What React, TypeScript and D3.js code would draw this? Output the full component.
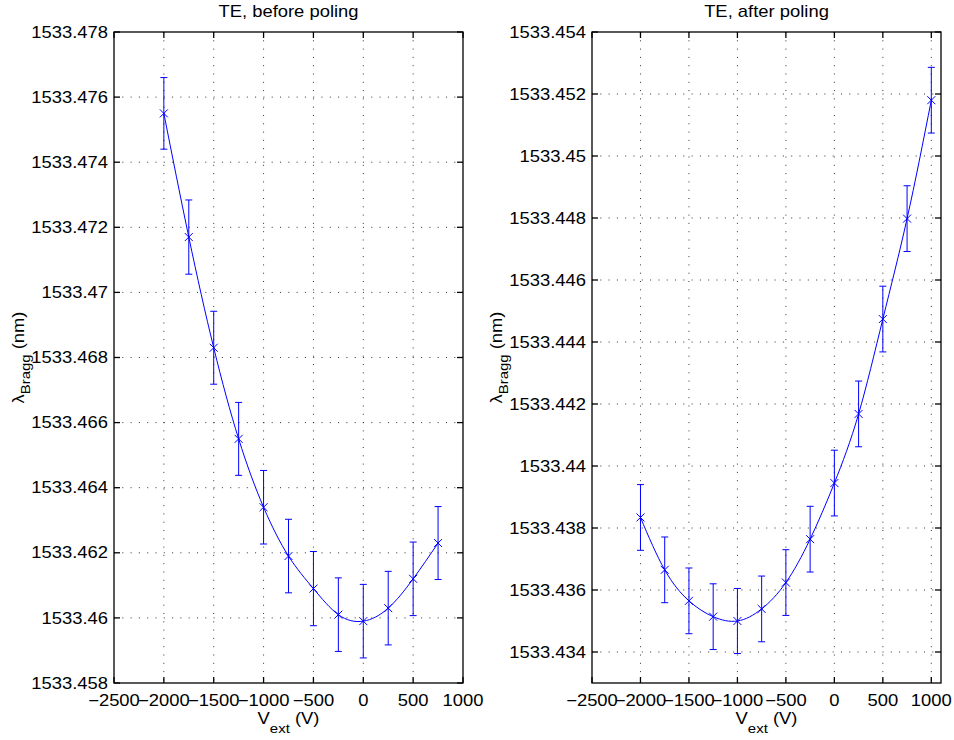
import React, { useEffect, useRef } from 'react';
import * as d3 from 'd3';

const voltsBefore = [-2000, -1750, -1500, -1250, -1000, -750, -500, -250, 0, 250, 500, 750];
const braggBefore = [
    1533.4755, 1533.4717, 1533.4683, 1533.4655, 1533.4634, 1533.4619,
    1533.4609, 1533.4601, 1533.4599, 1533.4603, 1533.4612, 1533.4623,
];
const errBefore = [
    0.00110, 0.00114, 0.00112, 0.00112, 0.00113, 0.00113,
    0.00114, 0.00113, 0.00113, 0.00113, 0.00113, 0.00112,
];

const voltsAfter = [-2000, -1750, -1500, -1250, -1000, -750, -500, -250, 0, 250, 500, 750, 1000];
const braggAfter = [
    1533.43834, 1533.43665, 1533.43565, 1533.43514, 1533.43500, 1533.43539,
    1533.43624, 1533.43764, 1533.43945, 1533.44168, 1533.44474, 1533.44798, 1533.45180,
];
const errAfter = [
    0.00106, 0.00106, 0.00106, 0.00106, 0.00105, 0.00106,
    0.00106, 0.00106, 0.00106, 0.00106, 0.00106, 0.00106, 0.00106,
];

const xTicks = [-2500, -2000, -1500, -1000, -500, 0, 500, 1000];
const yTicksBefore = [
    1533.458, 1533.46, 1533.462, 1533.464, 1533.466, 1533.468,
    1533.47, 1533.472, 1533.474, 1533.476, 1533.478,
];
const yTicksAfter = [
    1533.434, 1533.436, 1533.438, 1533.44, 1533.442, 1533.444,
    1533.446, 1533.448, 1533.45, 1533.452, 1533.454,
];

const FONT = '"Liberation Sans", Arial, Helvetica, sans-serif';
const STRETCH = 1.15;
const BLUE = '#0000ff';

function fmtX(v) {
    return v < 0 ? '\u2212' + Math.abs(v) : String(v);
}

function fmtY(v) {
    return String(+v.toFixed(3));
}

function Panel({ left, title, volts, bragg, err, yTicks, yDomain, xMax }) {
    const ref = useRef(null);

    useEffect(() => {
        const g = d3.select(ref.current);
        g.selectAll('*').remove();

        const top = 32;
        const bottom = 683;
        const right = left + 349;
        const x = d3.scaleLinear().domain([-2500, xMax]).range([left, right]);
        const y = d3.scaleLinear().domain(yDomain).range([bottom, top]);

        const text = (tx, ty, anchor, size) => g.append('text')
            .attr('transform', `translate(${tx},${ty}) scale(${STRETCH},1)`)
            .attr('text-anchor', anchor)
            .attr('font-family', FONT)
            .attr('font-size', size)
            .attr('fill', '#000');

        // dotted grid
        const grid = g.append('g')
            .attr('stroke', '#333')
            .attr('stroke-width', 1)
            .attr('stroke-dasharray', '1,7.3');
        xTicks.filter(t => x(t) > left + 1 && x(t) < right - 1).forEach(t => {
            grid.append('line')
                .attr('x1', x(t)).attr('x2', x(t))
                .attr('y1', top).attr('y2', bottom);
        });
        yTicks.filter(t => y(t) > top + 1 && y(t) < bottom - 1).forEach(t => {
            grid.append('line')
                .attr('x1', left).attr('x2', right)
                .attr('y1', y(t)).attr('y2', y(t));
        });

        const pts = volts.map((v, i) => ({ v, b: bragg[i], e: err[i] }));

        // error bars
        const eb = g.append('g').attr('stroke', BLUE).attr('stroke-width', 1).attr('fill', 'none');
        pts.forEach(p => {
            const cx = x(p.v);
            const y1 = y(p.b + p.e);
            const y2 = y(p.b - p.e);
            eb.append('line').attr('x1', cx).attr('x2', cx).attr('y1', y1).attr('y2', y2);
            eb.append('line').attr('x1', cx - 3.5).attr('x2', cx + 3.5).attr('y1', y1).attr('y2', y1);
            eb.append('line').attr('x1', cx - 3.5).attr('x2', cx + 3.5).attr('y1', y2).attr('y2', y2);
        });

        // smooth fit through the points
        const line = d3.line()
            .x(p => x(p.v))
            .y(p => y(p.b))
            .curve(d3.curveNatural);
        g.append('path')
            .attr('d', line(pts))
            .attr('fill', 'none')
            .attr('stroke', BLUE)
            .attr('stroke-width', 1);

        // x markers
        const mk = g.append('g').attr('stroke', BLUE).attr('stroke-width', 1);
        pts.forEach(p => {
            const cx = x(p.v);
            const cy = y(p.b);
            mk.append('line').attr('x1', cx - 4).attr('x2', cx + 4).attr('y1', cy - 4).attr('y2', cy + 4);
            mk.append('line').attr('x1', cx - 4).attr('x2', cx + 4).attr('y1', cy + 4).attr('y2', cy - 4);
        });

        // box and inward ticks on all sides
        const ax = g.append('g').attr('stroke', '#000').attr('stroke-width', 1.3).attr('fill', 'none');
        ax.append('rect')
            .attr('x', left).attr('y', top)
            .attr('width', right - left).attr('height', bottom - top);
        xTicks.forEach(t => {
            ax.append('line').attr('x1', x(t)).attr('x2', x(t)).attr('y1', bottom).attr('y2', bottom - 6);
            ax.append('line').attr('x1', x(t)).attr('x2', x(t)).attr('y1', top).attr('y2', top + 6);
        });
        yTicks.forEach(t => {
            ax.append('line').attr('x1', left).attr('x2', left + 6).attr('y1', y(t)).attr('y2', y(t));
            ax.append('line').attr('x1', right).attr('x2', right - 6).attr('y1', y(t)).attr('y2', y(t));
        });

        // tick labels
        xTicks.forEach(t => {
            text(x(t), 706, 'middle', 16).text(fmtX(t));
        });
        yTicks.forEach(t => {
            text(left - 6, y(t) + 5.6, 'end', 16).text(fmtY(t));
        });

        // title
        text((left + right) / 2, 17, 'middle', 16).text(title);

        // x label
        const xl = text((left + right) / 2, 724, 'middle', 16);
        xl.append('tspan').text('V');
        xl.append('tspan').attr('dy', 9).attr('font-size', 13).text('ext');
        xl.append('tspan').attr('dy', -9).text(' (V)');

        // y label
        const yl = g.append('text')
            .attr('transform', `translate(${left - 90},${(top + bottom) / 2}) rotate(-90) scale(${STRETCH},1)`)
            .attr('text-anchor', 'middle')
            .attr('font-family', FONT)
            .attr('font-size', 16)
            .attr('fill', '#000');
        yl.append('tspan').text('\u03bb');
        yl.append('tspan').attr('dy', 6).attr('font-size', 13).text('Bragg');
        yl.append('tspan').attr('dy', -6).text(' (nm)');
    }, [left, title, volts, bragg, err, yTicks, yDomain, xMax]);

    return <g ref={ref} />;
}

export default function App() {
    return (
        <svg
            width={954}
            height={740}
            style={{ position: 'absolute', left: 0, top: 0, background: '#fff' }}
        >
            <rect x={0} y={0} width={954} height={740} fill="#fff" />
            <Panel
                left={114}
                title="TE, before poling"
                volts={voltsBefore}
                bragg={braggBefore}
                err={errBefore}
                yTicks={yTicksBefore}
                yDomain={[1533.458, 1533.478]}
                xMax={1000}
            />
            <Panel
                left={592}
                title="TE, after poling"
                volts={voltsAfter}
                bragg={braggAfter}
                err={errAfter}
                yTicks={yTicksAfter}
                yDomain={[1533.433, 1533.454]}
                xMax={1100}
            />
        </svg>
    );
}
